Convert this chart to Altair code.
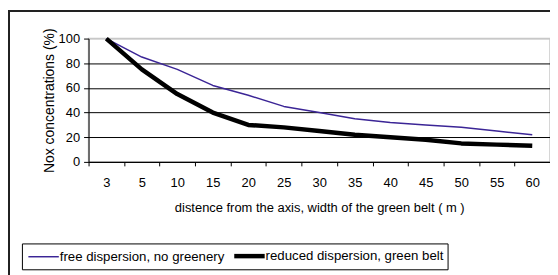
import altair as alt
import pandas as pd

distances = ["3", "5", "10", "15", "20", "25", "30", "35", "40", "45", "50", "55", "60"]
free_dispersion = [100, 85, 75, 62, 54, 45, 40, 35, 32, 30, 28, 25, 22]
reduced_dispersion = [100, 75, 55, 40, 30, 28, 25, 22, 20, 18, 15, 14, 13]
series_names = ["free dispersion, no greenery", "reduced dispersion, green belt"]
y_ticks = [0, 20, 40, 60, 80, 100]

rows = []
for name, vals in zip(series_names, [free_dispersion, reduced_dispersion]):
    for d, v in zip(distances, vals):
        rows.append({"distance": d, "value": v, "series": name})
df = pd.DataFrame(rows)

FONT = "Liberation Sans"

lines = alt.Chart(df).mark_line(strokeJoin="round").encode(
    x=alt.X("distance:N", sort=distances,
            scale=alt.Scale(paddingInner=0, paddingOuter=0),
            axis=alt.Axis(title="distence from the axis, width of the green belt ( m )",
                          labelAngle=0, tickBand="extent", tickSize=4,
                          labelPadding=11, titlePadding=12, titleFontSize=13, grid=False)),
    y=alt.Y("value:Q", scale=alt.Scale(domain=[0, 100], nice=False),
            axis=alt.Axis(title="Nox concentrations  (%)", values=y_ticks,
                          tickSize=5, labelPadding=4, titlePadding=2, titleFontSize=14,
                          grid=True,
                          gridColor=alt.condition("datum.value == 100", alt.value("#c8c8c8"), alt.value("black")))),
    color=alt.Color("series:N", sort=series_names,
                    scale=alt.Scale(domain=series_names, range=["#3b2596", "black"]),
                    legend=alt.Legend(title=None)),
    strokeWidth=alt.StrokeWidth("series:N", sort=series_names,
                                scale=alt.Scale(domain=series_names, range=[1.5, 4.5]),
                                legend=alt.Legend(title=None)),
)

frame_top = alt.Chart(df).mark_rule(color="#222", strokeWidth=1.5).encode(
    x=alt.value(-81), x2=alt.value(480), y=alt.value(-28))
frame_left = alt.Chart(df).mark_rule(color="#222", strokeWidth=1.5).encode(
    x=alt.value(-80.5), y=alt.value(-28), y2=alt.value(240))

chart = alt.layer(frame_top, frame_left, lines).properties(
    width=464, height=124,
    autosize=alt.AutoSizeParams(type="none"),
    padding={"left": 81, "top": 30, "right": 0, "bottom": 114},
).configure_view(
    stroke="#c8c8c8", strokeWidth=1.5
).configure_axis(
    labelFont=FONT, titleFont=FONT, labelFontSize=13,
    labelColor="black", titleColor="black", titleFontWeight="normal",
    domainColor="black", tickColor="black", domainWidth=1, tickWidth=1,
).configure_legend(
    orient="none", legendX=-67, legendY=206, direction="horizontal", columns=2,
    strokeColor="black", fillColor="white", padding=4,
    symbolType="M-1,0H4.1", symbolSize=144, labelFont=FONT, labelFontSize=13.3,
    labelColor="black", labelOffset=17, columnPadding=0, labelLimit=400,
)

chart.save("out.html", embed_options={"renderer": "svg", "actions": False})
